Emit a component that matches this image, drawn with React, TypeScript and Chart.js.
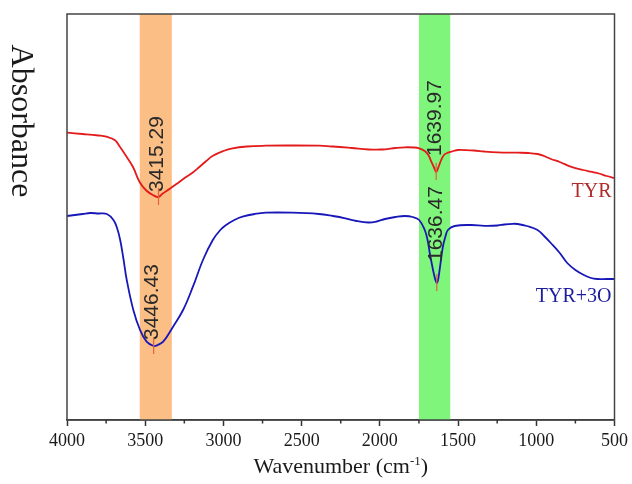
import React, { useEffect, useRef } from 'react';
import { Chart, registerables } from 'chart.js';

Chart.register(...registerables);

// ---- Data (arbitrary absorbance units) ----
const tyrWavenumbers = [
  4000, 3900, 3800, 3748, 3695, 3663, 3620, 3578, 3536, 3493, 3451, 3415, 3388, 3345, 3300, 3239, 3200, 3154,
  3110, 3070, 3000, 2942, 2850, 2730, 2600, 2391, 2300, 2180, 2073, 2000, 1967, 1900, 1840, 1780, 1749, 1713,
  1690, 1671, 1655, 1640, 1625, 1608, 1590, 1565, 1530, 1501, 1400, 1332, 1247, 1119, 1050, 992, 950, 907, 850,
  780, 700, 653, 600, 550, 500,
];
const tyrAbsorbance = [
  2.873, 2.86, 2.845, 2.833, 2.8, 2.735, 2.635, 2.53, 2.38, 2.295, 2.25, 2.23, 2.265, 2.31, 2.36, 2.43, 2.47, 2.53,
  2.59, 2.64, 2.69, 2.717, 2.735, 2.743, 2.745, 2.743, 2.735, 2.72, 2.705, 2.705, 2.707, 2.72, 2.727, 2.725, 2.717, 2.69,
  2.65, 2.583, 2.53, 2.48, 2.53, 2.6, 2.65, 2.673, 2.69, 2.7, 2.695, 2.685, 2.677, 2.673, 2.67, 2.66, 2.64, 2.61, 2.58,
  2.533, 2.5, 2.483, 2.465, 2.44, 2.42,
];

const tyr3oWavenumbers = [
  4000, 3950, 3900, 3851, 3800, 3745, 3703, 3680, 3660, 3640, 3618, 3576, 3533, 3491, 3446, 3420, 3385, 3322, 3258,
  3195, 3131, 3068, 3020, 2983, 2930, 2878, 2800, 2729, 2560, 2390, 2300, 2221, 2150, 2073, 2020, 1967, 1900, 1840,
  1790, 1749, 1713, 1695, 1681, 1660, 1645, 1636, 1628, 1618, 1597, 1580, 1565, 1522, 1416, 1332, 1247, 1205, 1150,
  1119, 1060, 992, 950, 907, 850, 802, 750, 696, 650, 611, 550, 500,
];
const tyr3oAbsorbance = [
  2.04, 2.05, 2.06, 2.07, 2.065, 2.06, 2.0, 1.92, 1.8, 1.62, 1.4, 1.1, 0.9, 0.783, 0.74, 0.75, 0.783, 0.933, 1.1,
  1.333, 1.6, 1.8, 1.9, 1.95, 2.0, 2.033, 2.06, 2.073, 2.073, 2.06, 2.04, 2.017, 1.99, 1.975, 1.985, 2.01, 2.03, 2.04,
  2.03, 2.0, 1.9, 1.8, 1.67, 1.5, 1.4, 1.37, 1.4, 1.5, 1.733, 1.84, 1.9, 1.94, 1.95, 1.942, 1.945, 1.955, 1.962,
  1.96, 1.94, 1.9, 1.84, 1.77, 1.67, 1.57, 1.5, 1.45, 1.42, 1.41, 1.41, 1.41,
];

const seriesNames = ['TYR', 'TYR+3O'];
const seriesColors = ['#e31b1b', '#1818b8'];
const seriesLabelColors = ['#b02a2a', '#1c1c9c'];

const xMin = 500;
const xMax = 4000;
const xMajorStep = 500;
const xMinorStep = 250;

const bandStart = [3535, 1750];
const bandEnd = [3330, 1550];
const bandColors = ['#fbbe85', '#80f57b'];

const peakWavenumbers = [3415.29, 3446.43, 1639.97, 1636.47];
const peakTexts = ['3415.29', '3446.43', '1639.97', '1636.47'];
const peakSeries = [0, 1, 0, 1];
const peakLabelGap = [5, 6, 16, 21];

const yTitle = 'Absorbance';
const xTitleMain = 'Wavenumber (cm';
const xTitleSup = '-1';
const xTitleEnd = ')';

const SERIF = '"Liberation Serif", "Times New Roman", serif';
const SANS = '"Liberation Sans", Arial, sans-serif';

function nearestPoint(xs: number[], ys: number[], target: number) {
  let best = 0;
  for (let i = 1; i < xs.length; i++) {
    if (Math.abs(xs[i] - target) < Math.abs(xs[best] - target)) best = i;
  }
  return { x: xs[best], y: ys[best] };
}

const annotationPlugin = {
  id: 'ftirAnnotations',
  beforeDatasetsDraw(chart: any) {
    const { ctx, chartArea, scales } = chart;
    const xs = scales.x;
    ctx.save();
    for (let i = 0; i < bandStart.length; i++) {
      const a = xs.getPixelForValue(bandStart[i]);
      const b = xs.getPixelForValue(bandEnd[i]);
      ctx.fillStyle = bandColors[i];
      ctx.fillRect(Math.min(a, b), chartArea.top, Math.abs(b - a), chartArea.bottom - chartArea.top);
    }
    ctx.restore();
  },
  afterDatasetsDraw(chart: any) {
    const { ctx, chartArea, scales } = chart;
    const xs = scales.x;
    const ys = scales.y;
    const seriesX = [tyrWavenumbers, tyr3oWavenumbers];
    const seriesY = [tyrAbsorbance, tyr3oAbsorbance];

    ctx.save();
    for (let i = 0; i < peakWavenumbers.length; i++) {
      const s = peakSeries[i];
      const p = nearestPoint(seriesX[s], seriesY[s], peakWavenumbers[i]);
      const px = xs.getPixelForValue(p.x);
      const py = ys.getPixelForValue(p.y);
      ctx.strokeStyle = '#e8603c';
      ctx.lineWidth = 1.2;
      ctx.beginPath();
      ctx.moveTo(px, py - 9);
      ctx.lineTo(px, py + 8);
      ctx.stroke();

      ctx.save();
      ctx.translate(px - 1, py - peakLabelGap[i]);
      ctx.rotate(-Math.PI / 2);
      ctx.font = `21px ${SANS}`;
      ctx.fillStyle = '#2a2a2a';
      ctx.textAlign = 'left';
      ctx.textBaseline = 'middle';
      ctx.fillText(peakTexts[i], 0, 0);
      ctx.restore();
    }

    const labelOffsets = [19, 23];
    for (let s = 0; s < seriesNames.length; s++) {
      const xsArr = seriesX[s];
      const ysArr = seriesY[s];
      const last = ysArr[ysArr.length - 1];
      const py = ys.getPixelForValue(last);
      ctx.font = `20px ${SERIF}`;
      ctx.fillStyle = seriesLabelColors[s];
      ctx.textAlign = 'right';
      ctx.textBaseline = 'alphabetic';
      ctx.fillText(seriesNames[s], xs.getPixelForValue(xsArr[xsArr.length - 1]) - 3, py + labelOffsets[s]);
    }

    ctx.strokeStyle = '#444';
    ctx.lineWidth = 1.5;
    ctx.strokeRect(chartArea.left, chartArea.top, chartArea.right - chartArea.left, chartArea.bottom - chartArea.top);
    ctx.restore();
  },
  afterDraw(chart: any) {
    const { ctx, chartArea, scales } = chart;
    const xs = scales.x;
    ctx.save();
    ctx.strokeStyle = '#333';
    ctx.lineWidth = 1.5;
    for (let v = xMin + xMinorStep; v < xMax; v += xMajorStep) {
      const px = xs.getPixelForValue(v);
      ctx.beginPath();
      ctx.moveTo(px, chartArea.bottom);
      ctx.lineTo(px, chartArea.bottom + 3.5);
      ctx.stroke();
    }

    const cx = (chartArea.left + chartArea.right) / 2;
    const baseY = 473;
    ctx.fillStyle = '#1a1a1a';
    ctx.textBaseline = 'alphabetic';
    ctx.textAlign = 'left';
    ctx.font = `22px ${SERIF}`;
    const w1 = ctx.measureText(xTitleMain).width;
    const w3 = ctx.measureText(xTitleEnd).width;
    ctx.font = `13px ${SERIF}`;
    const w2 = ctx.measureText(xTitleSup).width;
    let x0 = cx - (w1 + w2 + w3) / 2;
    ctx.font = `22px ${SERIF}`;
    ctx.fillText(xTitleMain, x0, baseY);
    x0 += w1;
    ctx.font = `13px ${SERIF}`;
    ctx.fillText(xTitleSup, x0, baseY - 8);
    x0 += w2;
    ctx.font = `22px ${SERIF}`;
    ctx.fillText(xTitleEnd, x0, baseY);

    ctx.save();
    ctx.translate(12, 121);
    ctx.rotate(Math.PI / 2);
    ctx.font = `32px ${SERIF}`;
    ctx.fillStyle = '#1a1a1a';
    ctx.textAlign = 'center';
    ctx.textBaseline = 'alphabetic';
    ctx.fillText(yTitle, 0, 0);
    ctx.restore();
    ctx.restore();
  },
};

export default function App() {
  const canvasRef = useRef<HTMLCanvasElement | null>(null);

  useEffect(() => {
    document.body.style.margin = '0';
    const canvas = canvasRef.current;
    if (!canvas) return;
    const chart = new Chart(canvas, {
      type: 'line',
      data: {
        datasets: [
          {
            label: seriesNames[0],
            data: tyrWavenumbers.map((x, i) => ({ x, y: tyrAbsorbance[i] })),
            borderColor: seriesColors[0],
            borderWidth: 1.8,
            pointRadius: 0,
            tension: 0.4,
            fill: false,
          },
          {
            label: seriesNames[1],
            data: tyr3oWavenumbers.map((x, i) => ({ x, y: tyr3oAbsorbance[i] })),
            borderColor: seriesColors[1],
            borderWidth: 1.8,
            pointRadius: 0,
            tension: 0.4,
            fill: false,
          },
        ],
      },
      options: {
        animation: false,
        responsive: false,
        devicePixelRatio: 1,
        layout: { padding: { left: 67, top: 14, right: 14.5, bottom: 0 } },
        plugins: { legend: { display: false }, tooltip: { enabled: false } },
        scales: {
          x: {
            type: 'linear',
            reverse: true,
            min: xMin,
            max: xMax,
            afterFit: (scale: any) => {
              scale.height = 64;
            },
            ticks: {
              stepSize: xMajorStep,
              padding: 4,
              color: '#1a1a1a',
              font: { family: SERIF, size: 18 },
              maxRotation: 0,
              autoSkip: false,
              callback: (v: any) => String(v),
            },
            grid: {
              drawOnChartArea: false,
              tickLength: 6,
              tickColor: '#333',
              tickWidth: 1.5,
            },
            border: { color: '#333', width: 1.5 },
          },
          y: {
            display: false,
            min: 0,
            max: 4.06,
          },
        },
      },
      plugins: [annotationPlugin],
    } as any);
    return () => chart.destroy();
  }, []);

  return (
    <div style={{ width: 632, height: 484, background: '#fff' }}>
      <canvas ref={canvasRef} width={632} height={484} style={{ display: 'block', width: 632, height: 484 }} />
    </div>
  );
}
